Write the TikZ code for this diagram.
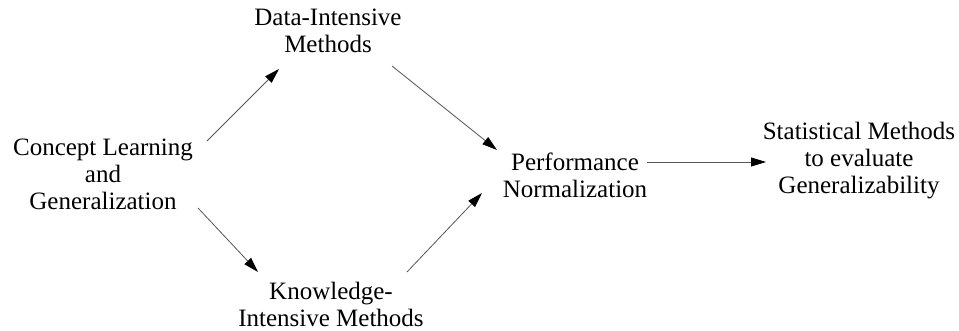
\documentclass[tikz,border=0pt]{standalone}
\usepackage{xcolor}
\usepackage{tikz}
\usetikzlibrary{arrows.meta}
\usepackage{fontspec}
\setmainfont{Liberation Serif}
\definecolor{flowgray}{HTML}{555555}

\begin{document}
\begin{tikzpicture}[x=1pt,y=1pt,
    stage/.style={align=center,inner sep=0pt,font=\fontsize{25}{27}\selectfont},
    flow/.style={flowgray,line width=0.8pt,-{Triangle[length=15pt,width=9pt,color=black]}}]
  \useasboundingbox (0,0) rectangle (959,331);
  \node[stage] (concept) at (103,157) {Concept Learning\\and\\Generalization};
  \node[stage] (data) at (328,300) {Data-Intensive\\Methods};
  \node[stage] (knowledge) at (331,27) {Knowledge-\\Intensive Methods};
  \node[stage] (perf) at (575,155.5) {Performance\\Normalization};
  \node[stage] (stats) at (859,170) {Statistical Methods\\to evaluate\\Generalizability};
  \draw[flow] ([shift={(104,33)}]concept.center) -- ([shift={(-49,-38)}]data.center);
  \draw[flow] ([shift={(95,-34)}]concept.center) -- ([shift={(-73,32)}]knowledge.center);
  \draw[flow] ([shift={(64,-35)}]data.center) -- ([shift={(-78,25.5)}]perf.center);
  \draw[flow] ([shift={(76,32)}]knowledge.center) -- ([shift={(-93,-17.5)}]perf.center);
  \draw[flow] ([shift={(72,13.5)}]perf.center) -- ([shift={(-93,-1)}]stats.center);
\end{tikzpicture}
\end{document}
